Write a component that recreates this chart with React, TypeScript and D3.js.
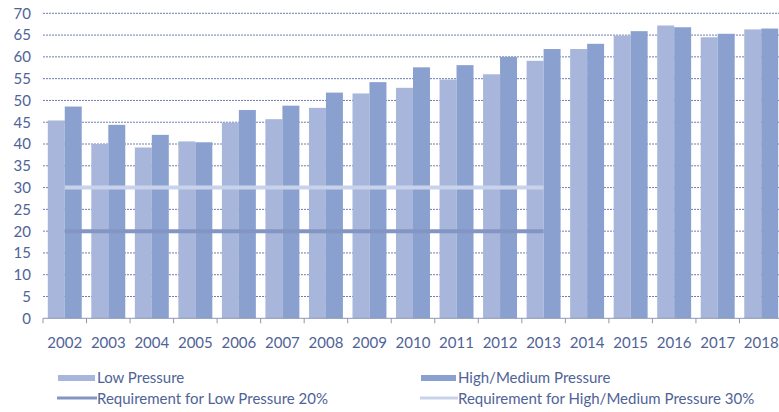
import React from "react";
import * as d3 from "d3";

const years = ["2002","2003","2004","2005","2006","2007","2008","2009","2010","2011","2012","2013","2014","2015","2016","2017","2018"];
const lowPressure = [45.4,40.0,39.2,40.6,44.9,45.7,48.3,51.6,52.9,54.8,56.0,59.1,61.8,64.9,67.2,64.5,66.3];
const highMediumPressure = [48.6,44.4,42.1,40.4,47.8,48.8,51.8,54.2,57.6,58.1,60.0,61.8,63.0,65.9,66.8,65.3,66.5];
const lowRequirement = [20,20,20,20,20,20,20,20,20,20,20,20];
const highRequirement = [30,30,30,30,30,30,30,30,30,30,30,30];
const yTicks = [0,5,10,15,20,25,30,35,40,45,50,55,60,65,70];

const W = 779;
const H = 412;
const FONT = "Lato, 'Open Sans', sans-serif";
const C_LOW = "#a7b6da";
const C_HIGH = "#8aa1cf";
const C_REQ_LOW = "#8395c3";
const C_REQ_HIGH = "#c8d3eb";
const C_TEXT = "#4f6397";
const C_GRID = "#6f7cb0";

export default function App() {
  const x0 = d3.scaleBand<string>().domain(years).range([43, 783]).paddingInner(0.22).paddingOuter(0.11);
  const x1 = d3.scaleBand<string>().domain(["low", "high"]).range([0, x0.bandwidth()]);
  const y = d3.scaleLinear().domain([0, 70]).range([318.3, 13.3]);
  const step = x0.step();
  const bound = (i: number) => 43 + i * step;

  const reqLine = d3
    .line<number>()
    .x((_, i) => (x0(years[i]) as number) + x0.bandwidth() / 2)
    .y((d) => y(d));

  return (
    <svg width={W} height={H} style={{ position: "absolute", left: 0, top: 0, background: "#fff" }}>
      {/* gridlines */}
      {yTicks.filter((t) => t > 0).map((t) => (
        <line key={t} x1={43} x2={783} y1={y(t)} y2={y(t)} stroke={C_GRID} strokeWidth={1} strokeDasharray="2,1" />
      ))}
      {/* y labels */}
      {yTicks.map((t) => (
        <text key={t} x={31} y={y(t)} dy="0.36em" textAnchor="end" fontFamily={FONT} fontSize={15} fill={C_TEXT}>
          {t}
        </text>
      ))}
      {/* bars */}
      {years.map((yr, i) => (
        <g key={yr} transform={`translate(${x0(yr)},0)`}>
          <rect x={x1("low")} y={y(lowPressure[i])} width={x1.bandwidth()} height={y(0) - y(lowPressure[i])} fill={C_LOW} />
          <rect x={x1("high")} y={y(highMediumPressure[i])} width={x1.bandwidth()} height={y(0) - y(highMediumPressure[i])} fill={C_HIGH} />
        </g>
      ))}
      {/* requirement lines */}
      <path d={reqLine(highRequirement) || ""} fill="none" stroke={C_REQ_HIGH} strokeWidth={4} />
      <path d={reqLine(lowRequirement) || ""} fill="none" stroke={C_REQ_LOW} strokeWidth={4} />
      {/* x axis */}
      <line x1={43} x2={783} y1={y(0)} y2={y(0)} stroke="#8d96b8" strokeWidth={1} />
      {years.map((yr, i) => (
        <line key={yr} x1={bound(i)} x2={bound(i)} y1={y(0)} y2={y(0) + 5} stroke="#8d96b8" strokeWidth={1} />
      ))}
      {years.map((yr) => (
        <text key={yr} x={(x0(yr) as number) + x0.bandwidth() / 2} y={348} textAnchor="middle" fontFamily={FONT} fontSize={15} fill={C_TEXT}>
          {yr}
        </text>
      ))}
      {/* legend */}
      <rect x={58} y={375} width={37} height={6} fill={C_LOW} />
      <text x={97} y={383} fontFamily={FONT} fontSize={15} fill={C_TEXT}>Low Pressure</text>
      <rect x={421} y={375} width={35} height={6} fill={C_HIGH} />
      <text x={458} y={383} fontFamily={FONT} fontSize={15} fill={C_TEXT}>High/Medium Pressure</text>
      <line x1={57} x2={97} y1={398} y2={398} stroke={C_REQ_LOW} strokeWidth={3} />
      <text x={97} y={404} fontFamily={FONT} fontSize={15} fill={C_TEXT}>Requirement for Low Pressure 20%</text>
      <line x1={420} x2={458} y1={398} y2={398} stroke={C_REQ_HIGH} strokeWidth={3} />
      <text x={458} y={404} fontFamily={FONT} fontSize={15} fill={C_TEXT}>Requirement for High/Medium Pressure 30%</text>
    </svg>
  );
}
